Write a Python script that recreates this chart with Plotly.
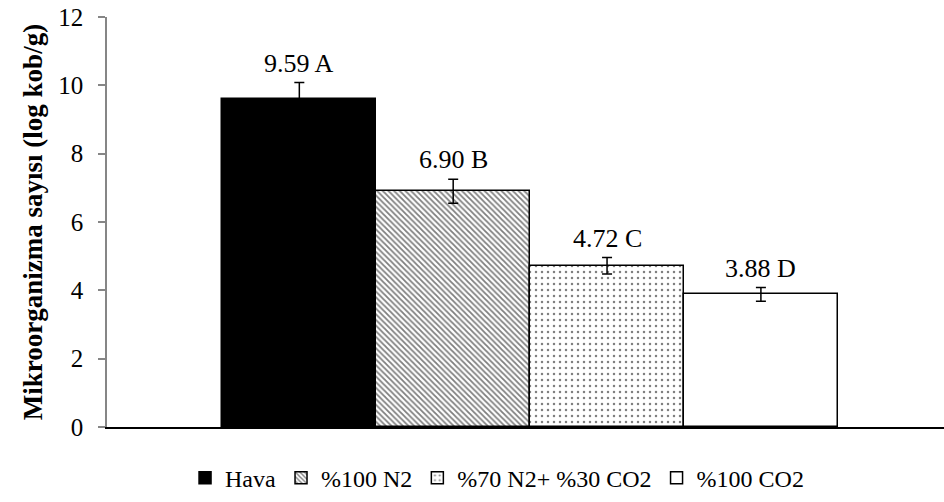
import plotly.graph_objects as go

categories = ["Hava", "%100 N2", "%70 N2+ %30 CO2", "%100 CO2"]
values = [9.59, 6.90, 4.72, 3.88]
errors = [0.49, 0.35, 0.24, 0.20]
labels = ["9.59 A", "6.90 B", "4.72 C", "3.88 D"]

fills = ["black", "white", "white", "white"]
shapes = ["", "\\", ".", ""]
psize = [6, 4, 6, 6]
psolid = [0.3, 0.45, 0.14, 0.3]

FONT = "Liberation Serif, Times New Roman, serif"

fig = go.Figure()
for i, name in enumerate(categories):
    fig.add_trace(go.Bar(
        x=[name], y=[values[i]], name=name,
        marker=dict(color=fills[i], line=dict(color="black", width=1.5),
                    pattern=dict(shape=shapes[i], fgcolor="black", bgcolor="white",
                                 size=psize[i], solidity=psolid[i])),
        error_y=dict(type="data", array=[errors[i]], color="black", thickness=1.5, width=5),
    ))
    fig.add_annotation(x=name, y=values[i] + errors[i], text=labels[i], showarrow=False,
                       yanchor="bottom", yshift=3, font=dict(family=FONT, size=26, color="black"))

fig.update_layout(
    width=944, height=502,
    margin=dict(l=107, r=0, t=17, b=75),
    paper_bgcolor="white", plot_bgcolor="white",
    bargap=0, barmode="group",
    showlegend=True,
    legend=dict(orientation="h", x=0.466, xanchor="center", y=-0.07, yanchor="top",
                font=dict(family=FONT, size=24, color="black"), itemwidth=30,
                traceorder="normal"),
    font=dict(family=FONT, size=24, color="black"),
)
fig.update_xaxes(type="category", categoryorder="array", categoryarray=categories,
                 range=[-1.25, 4.19], showticklabels=False, ticks="",
                 showline=True, linecolor="black", linewidth=2, showgrid=False, zeroline=False)
fig.update_yaxes(range=[0, 12], dtick=2, tick0=0, showgrid=False, zeroline=False,
                 showline=True, linecolor="#868686", linewidth=1.5,
                 ticks="outside", ticklen=7, tickcolor="#868686", tickwidth=1.5,
                 ticklabelstandoff=10,
                 tickfont=dict(family=FONT, size=25, color="black"),
                 title=dict(text="<b>Mikroorganizma sayısı (log kob/g)</b>", standoff=8,
                            font=dict(family=FONT, size=27, color="black")))

fig.write_html("out.html")
